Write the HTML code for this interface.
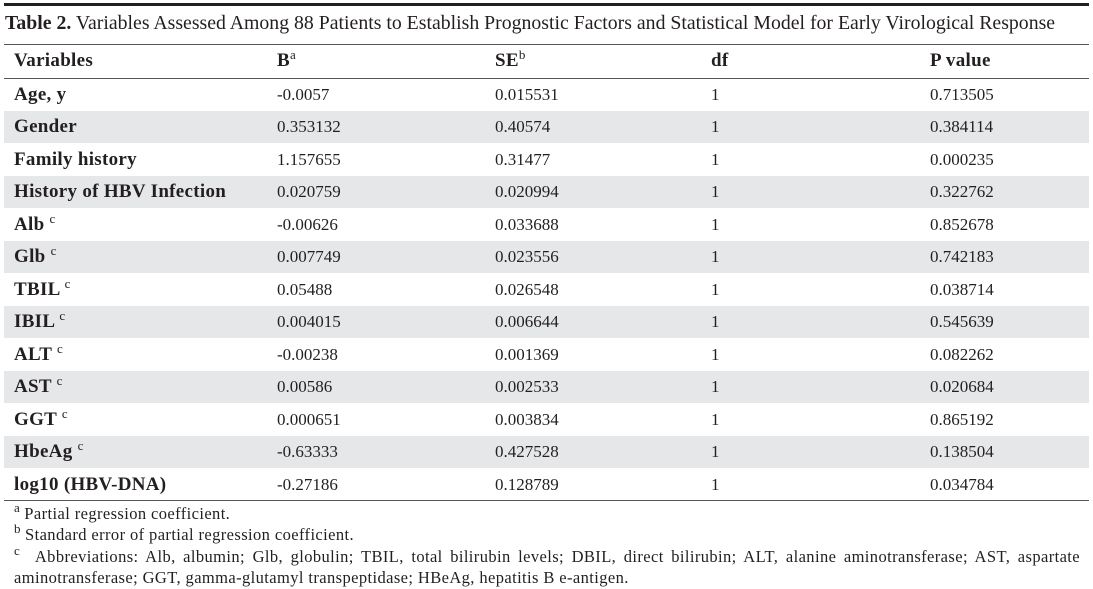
<!DOCTYPE html>
<html><head><meta charset="utf-8"><style>
body{margin:0;width:1093px;height:589px;background:#fff;position:relative;overflow:hidden;font-family:"Liberation Serif",serif;color:#231f20}
.a{position:absolute;white-space:nowrap}
.ln{position:absolute;left:4px;width:1085px}
.row{position:absolute;left:4px;width:1085px;height:32px}
.g{background:#e6e7e8}
.t{position:absolute;font-size:17px;line-height:32px;white-space:nowrap}
.v{left:10px;font-weight:bold;font-size:19px;letter-spacing:0.3px}
.hb{font-weight:bold;font-size:19px;letter-spacing:0.3px}
.b{left:273px}.s{left:491px}.d{left:707px}.p{left:926px}
sup{font-size:13px;font-weight:normal;vertical-align:7px;line-height:0;letter-spacing:0}
.f{position:absolute;left:14px;font-size:16.5px;letter-spacing:0.4px;white-space:nowrap}
</style></head><body>
<div class="ln" style="top:3px;height:3px;background:#231f20"></div>
<div class="a" style="left:5px;top:12px;font-size:19.8px"><b>Table 2.</b> Variables Assessed Among 88 Patients to Establish Prognostic Factors and Statistical Model for Early Virological Response</div>
<div class="ln" style="top:44px;height:1px;background:#555"></div>
<div class="row" style="top:45px;height:33px"><span class="t v">Variables</span><span class="t b hb">B<sup>a</sup></span><span class="t s hb">SE<sup>b</sup></span><span class="t d hb">df</span><span class="t p hb">P value</span></div>
<div class="ln" style="top:78px;height:1px;background:#555"></div>
<div class="row" style="top:79px"><span class="t v">Age, y</span><span class="t b">-0.0057</span><span class="t s">0.015531</span><span class="t d">1</span><span class="t p">0.713505</span></div>
<div class="row g" style="top:111px"><span class="t v">Gender</span><span class="t b">0.353132</span><span class="t s">0.40574</span><span class="t d">1</span><span class="t p">0.384114</span></div>
<div class="row" style="top:143.5px"><span class="t v">Family history</span><span class="t b">1.157655</span><span class="t s">0.31477</span><span class="t d">1</span><span class="t p">0.000235</span></div>
<div class="row g" style="top:176px"><span class="t v">History of HBV Infection</span><span class="t b">0.020759</span><span class="t s">0.020994</span><span class="t d">1</span><span class="t p">0.322762</span></div>
<div class="row" style="top:208.5px"><span class="t v">Alb <sup>c</sup></span><span class="t b">-0.00626</span><span class="t s">0.033688</span><span class="t d">1</span><span class="t p">0.852678</span></div>
<div class="row g" style="top:241px"><span class="t v">Glb <sup>c</sup></span><span class="t b">0.007749</span><span class="t s">0.023556</span><span class="t d">1</span><span class="t p">0.742183</span></div>
<div class="row" style="top:273.5px"><span class="t v">TBIL <sup>c</sup></span><span class="t b">0.05488</span><span class="t s">0.026548</span><span class="t d">1</span><span class="t p">0.038714</span></div>
<div class="row g" style="top:306px"><span class="t v">IBIL <sup>c</sup></span><span class="t b">0.004015</span><span class="t s">0.006644</span><span class="t d">1</span><span class="t p">0.545639</span></div>
<div class="row" style="top:338.5px"><span class="t v">ALT <sup>c</sup></span><span class="t b">-0.00238</span><span class="t s">0.001369</span><span class="t d">1</span><span class="t p">0.082262</span></div>
<div class="row g" style="top:371px"><span class="t v">AST <sup>c</sup></span><span class="t b">0.00586</span><span class="t s">0.002533</span><span class="t d">1</span><span class="t p">0.020684</span></div>
<div class="row" style="top:403.5px"><span class="t v">GGT <sup>c</sup></span><span class="t b">0.000651</span><span class="t s">0.003834</span><span class="t d">1</span><span class="t p">0.865192</span></div>
<div class="row g" style="top:436px"><span class="t v">HbeAg <sup>c</sup></span><span class="t b">-0.63333</span><span class="t s">0.427528</span><span class="t d">1</span><span class="t p">0.138504</span></div>
<div class="row" style="top:468.5px"><span class="t v">log10 (HBV-DNA)</span><span class="t b">-0.27186</span><span class="t s">0.128789</span><span class="t d">1</span><span class="t p">0.034784</span></div>
<div class="ln" style="top:500px;height:1px;background:#555"></div>
<div class="f" style="top:504px"><sup>a</sup> Partial regression coefficient.</div>
<div class="f" style="top:525px"><sup>b</sup> Standard error of partial regression coefficient.</div>
<div class="f" style="top:546px;width:1066px;text-align:justify;white-space:normal;line-height:21px"><sup>c</sup>&nbsp;&nbsp;Abbreviations: Alb, albumin; Glb, globulin; TBIL, total bilirubin levels; DBIL, direct bilirubin; ALT, alanine aminotransferase; AST, aspartate aminotransferase; GGT, gamma-glutamyl transpeptidase; HBeAg, hepatitis B e-antigen.</div>
</body></html>
